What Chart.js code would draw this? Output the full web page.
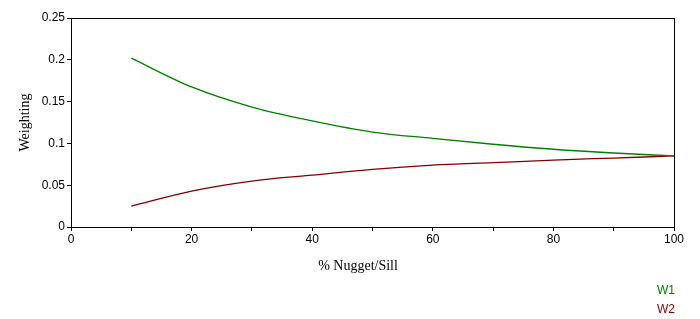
<!DOCTYPE html>
<html>
<head>
<meta charset="utf-8">
<script src="https://cdn.jsdelivr.net/npm/chart.js@4.4.1/dist/chart.umd.min.js"></script>
<style>
  html, body { margin: 0; padding: 0; background: #fff; }
  #wrap { width: 700px; height: 319px; }
</style>
</head>
<body>
<div id="wrap"><canvas id="weightChart" width="700" height="319"></canvas></div>
<script>
// Nugget/sill percentages and the two weights
const nugget = [10, 20, 30, 40, 50, 60, 70, 80, 90, 100];
const w1 = [0.202, 0.1675, 0.1435, 0.127, 0.1136, 0.106, 0.099, 0.093, 0.0885, 0.085];
const w2 = [0.025, 0.043, 0.055, 0.062, 0.069, 0.074, 0.077, 0.080, 0.0825, 0.085];

// Tick labels
const xTickLabels = ['0', '', '20', '', '40', '', '60', '', '80', '', '100'];
const yTickLabels = ['0', '0.05', '0.1', '0.15', '0.2', '0.25'];

const seriesNames = ['W1', 'W2'];
const seriesColors = ['#008000', '#800000'];
const xTitle = '% Nugget/Sill';

function toPoints(ys) {
    return nugget.map((x, i) => ({ x: x, y: ys[i] }));
}

// Box round the plot area
const frame = {
    id: 'frame',
    afterDraw(chart) {
        const a = chart.chartArea;
        const ctx = chart.ctx;
        ctx.save();
        ctx.strokeStyle = '#000';
        ctx.lineWidth = 1;
        ctx.strokeRect(Math.round(a.left) + 0.5, Math.round(a.top) + 0.5,
            Math.round(a.right - a.left), Math.round(a.bottom - a.top));
        ctx.restore();
    }
};

// x title sits a little left of the plot centre, like the original
const bottomTitle = {
    id: 'bottomTitle',
    afterDraw(chart) {
        const ctx = chart.ctx;
        ctx.save();
        ctx.font = '14px "Liberation Serif", "Times New Roman", serif';
        ctx.fillStyle = '#000';
        ctx.textAlign = 'center';
        ctx.textBaseline = 'middle';
        ctx.fillText(xTitle, chart.width / 2 + 8, 266);
        ctx.restore();
    }
};

// Legend in the bottom right corner, one coloured label per line
const cornerLegend = {
    id: 'cornerLegend',
    afterDraw(chart) {
        const ctx = chart.ctx;
        ctx.save();
        ctx.font = '12px "Liberation Sans", Arial, sans-serif';
        ctx.textAlign = 'left';
        ctx.textBaseline = 'middle';
        chart.data.datasets.forEach((ds, i) => {
            ctx.fillStyle = ds.borderColor;
            ctx.fillText(ds.label, chart.width - 43, 291 + i * 19);
        });
        ctx.restore();
    }
};

const ctx = document.getElementById('weightChart').getContext('2d');
new Chart(ctx, {
    type: 'line',
    data: {
        datasets: [
            {
                label: seriesNames[0],
                data: toPoints(w1),
                borderColor: seriesColors[0],
                borderWidth: 1.3,
                pointRadius: 0,
                cubicInterpolationMode: 'monotone',
                fill: false
            },
            {
                label: seriesNames[1],
                data: toPoints(w2),
                borderColor: seriesColors[1],
                borderWidth: 1.3,
                pointRadius: 0,
                cubicInterpolationMode: 'monotone',
                fill: false
            }
        ]
    },
    options: {
        responsive: false,
        animation: false,
        layout: {
            padding: { left: 0, top: 18, right: 26, bottom: 0 }
        },
        plugins: {
            legend: { display: false },
            tooltip: { enabled: false }
        },
        scales: {
            x: {
                type: 'linear',
                min: 0,
                max: 100,
                afterFit(scale) { scale.height = 92; },
                ticks: {
                    stepSize: 10,
                    autoSkip: false,
                    maxRotation: 0,
                    padding: 1,
                    color: '#000',
                    font: { family: '"Liberation Sans", Arial, sans-serif', size: 12 },
                    callback: (v) => xTickLabels[Math.round(v / 10)]
                },
                grid: { drawOnChartArea: false, tickLength: 4, color: '#000' },
                border: { color: '#000' }
            },
            y: {
                min: 0,
                max: 0.25,
                afterFit(scale) { scale.width = 71; },
                ticks: {
                    stepSize: 0.05,
                    padding: 2,
                    color: '#000',
                    font: { family: '"Liberation Sans", Arial, sans-serif', size: 12 },
                    callback: (v) => yTickLabels[Math.round(v / 0.05)]
                },
                grid: { drawOnChartArea: false, tickLength: 4, color: '#000' },
                border: { color: '#000' },
                title: {
                    display: true,
                    text: 'Weighting',
                    color: '#000',
                    font: { family: '"Liberation Serif", "Times New Roman", serif', size: 14 },
                    padding: { top: 17, bottom: 0 }
                }
            }
        }
    },
    plugins: [frame, bottomTitle, cornerLegend]
});
</script>
</body>
</html>
